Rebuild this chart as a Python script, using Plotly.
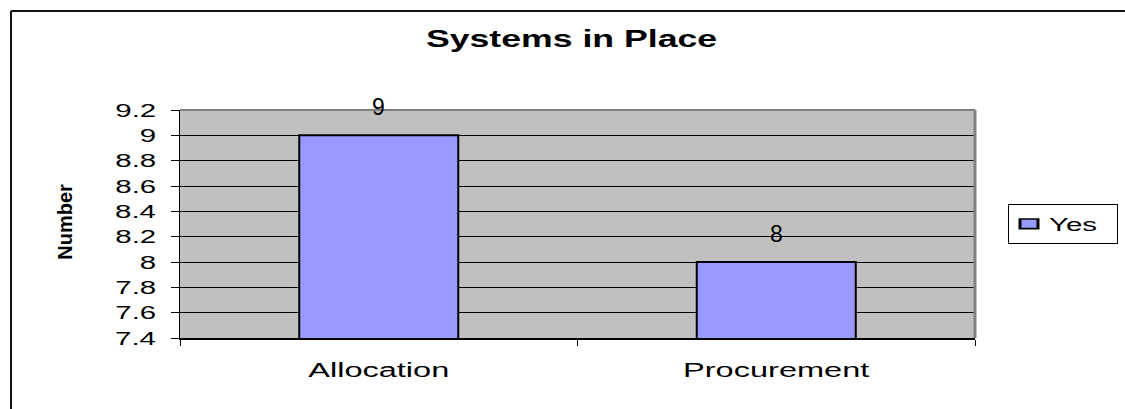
import plotly.graph_objects as go

# Chart data
categories = ["Allocation", "Procurement"]
yes_values = [9, 8]
y_ticks = [7.4, 7.6, 7.8, 8.0, 8.2, 8.4, 8.6, 8.8, 9.0, 9.2]
y_tick_text = ["7.4", "7.6", "7.8", "8", "8.2", "8.4", "8.6", "8.8", "9", "9.2"]

FONT = "Arial, Liberation Sans, sans-serif"
TEXT_STRETCH = 1.55  # horizontal widening of the classic spreadsheet text
LEGEND_BOX_WIDTH = 109

fig = go.Figure()
fig.add_trace(go.Bar(
    x=categories,
    y=yes_values,
    name="Yes",
    marker=dict(color="#9999FF", line=dict(color="#000000", width=2)),
    width=0.4,
))

# value labels above the bars
for c, v in zip(categories, yes_values):
    fig.add_annotation(
        x=c, y=v, text=str(v), showarrow=False,
        yanchor="bottom", yshift=13,
        font=dict(family=FONT, size=23, color="#000000"),
    )

# outer chart frame: top and left edges, running to the page edges
frame = dict(color="#111111", width=2)
fig.add_shape(type="line", xref="paper", yref="paper",
              x0=-0.2126, x1=1.1886, y0=1.434, y1=1.434, line=frame)
fig.add_shape(type="line", xref="paper", yref="paper",
              x0=-0.2126, x1=-0.2126, y0=-0.311, y1=1.434, line=frame)
# plot-area border on the top and right
fig.add_shape(type="line", xref="paper", yref="paper", x0=0, x1=1, y0=1, y1=1,
              line=dict(color="#808080", width=2))
fig.add_shape(type="line", xref="paper", yref="paper", x0=1, x1=1, y0=0, y1=1,
              line=dict(color="#808080", width=3))

# y axis title
fig.add_annotation(
    xref="paper", yref="paper", x=-0.1447, y=0.51,
    xanchor="center", yanchor="middle",
    text="<b>Number</b>", textangle=-90, showarrow=False,
    font=dict(family=FONT, size=20, color="#000000"),
)

fig.update_layout(
    width=1125, height=409,
    margin=dict(l=180, r=150, t=110, b=71),
    paper_bgcolor="#FFFFFF",
    plot_bgcolor="#C0C0C0",
    bargap=0.6,
    title=dict(
        text="<b>Systems in Place</b>",
        x=0.508, xanchor="center", xref="container",
        y=1 - 39 / 409, yanchor="middle", yref="container",
        font=dict(family=FONT, size=23, color="#000000"),
    ),
    showlegend=True,
    legend=dict(
        x=1.0415, xanchor="left", y=0.5877, yanchor="top",
        bgcolor="#FFFFFF", bordercolor="#000000", borderwidth=1,
        font=dict(family=FONT, size=19, color="#000000"),
    ),
    xaxis=dict(
        type="category",
        showline=True, linecolor="#000000", linewidth=2,
        ticks="outside", tickson="boundaries", ticklen=6, tickcolor="#000000",
        showgrid=False,
        tickfont=dict(family=FONT, size=21, color="#000000"),
        ticklabelstandoff=12,
    ),
    yaxis=dict(
        range=[7.4, 9.2],
        tickvals=y_ticks, ticktext=y_tick_text,
        showline=True, linecolor="#000000", linewidth=1,
        ticks="outside", ticklen=8, tickcolor="#000000",
        showgrid=True, gridcolor="#000000", gridwidth=1,
        zeroline=False,
        tickfont=dict(family=FONT, size=19, color="#000000"),
        ticklabelstandoff=11,
    ),
)

# widen horizontal text about its anchor point; rotated text is left as is
post_script = """
var gd = document.getElementById('{plot_id}');
var sx = """ + str(TEXT_STRETCH) + """;
var boxW = """ + str(LEGEND_BOX_WIDTH) + """;
function isRotated(el) {
  while (el && el.tagName && el.tagName.toLowerCase() !== 'svg') {
    var tr = el.getAttribute('transform');
    if (tr && tr.indexOf('rotate') >= 0) return true;
    el = el.parentNode;
  }
  return false;
}
gd.querySelectorAll('svg text').forEach(function (t) {
  if (isRotated(t)) return;
  var bb = t.getBBox();
  if (!bb.width) return;
  var anchor = t.getAttribute('text-anchor') || 'start';
  var ax = anchor === 'end' ? bb.x + bb.width : (anchor === 'middle' ? bb.x + bb.width / 2 : bb.x);
  var tr = t.getAttribute('transform') || '';
  t.setAttribute('transform', tr + ' translate(' + ax + ',0) scale(' + sx + ',1) translate(' + (-ax) + ',0)');
});
var bg = gd.querySelector('.legend rect.bg');
if (bg) bg.setAttribute('width', boxW);
gd.querySelectorAll('clipPath[id^="legend"] rect').forEach(function (r) {
  r.setAttribute('width', boxW);
});
gd.querySelectorAll('.legend .scrollbox').forEach(function (s) {
  s.removeAttribute('clip-path');
});
gd.querySelectorAll('.legend .legendpoints path').forEach(function (p) {
  var tr = p.getAttribute('transform') || '';
  p.setAttribute('transform', tr + ' scale(1.5,0.8)');
});
"""

fig.write_html("out.html", post_script=post_script)
